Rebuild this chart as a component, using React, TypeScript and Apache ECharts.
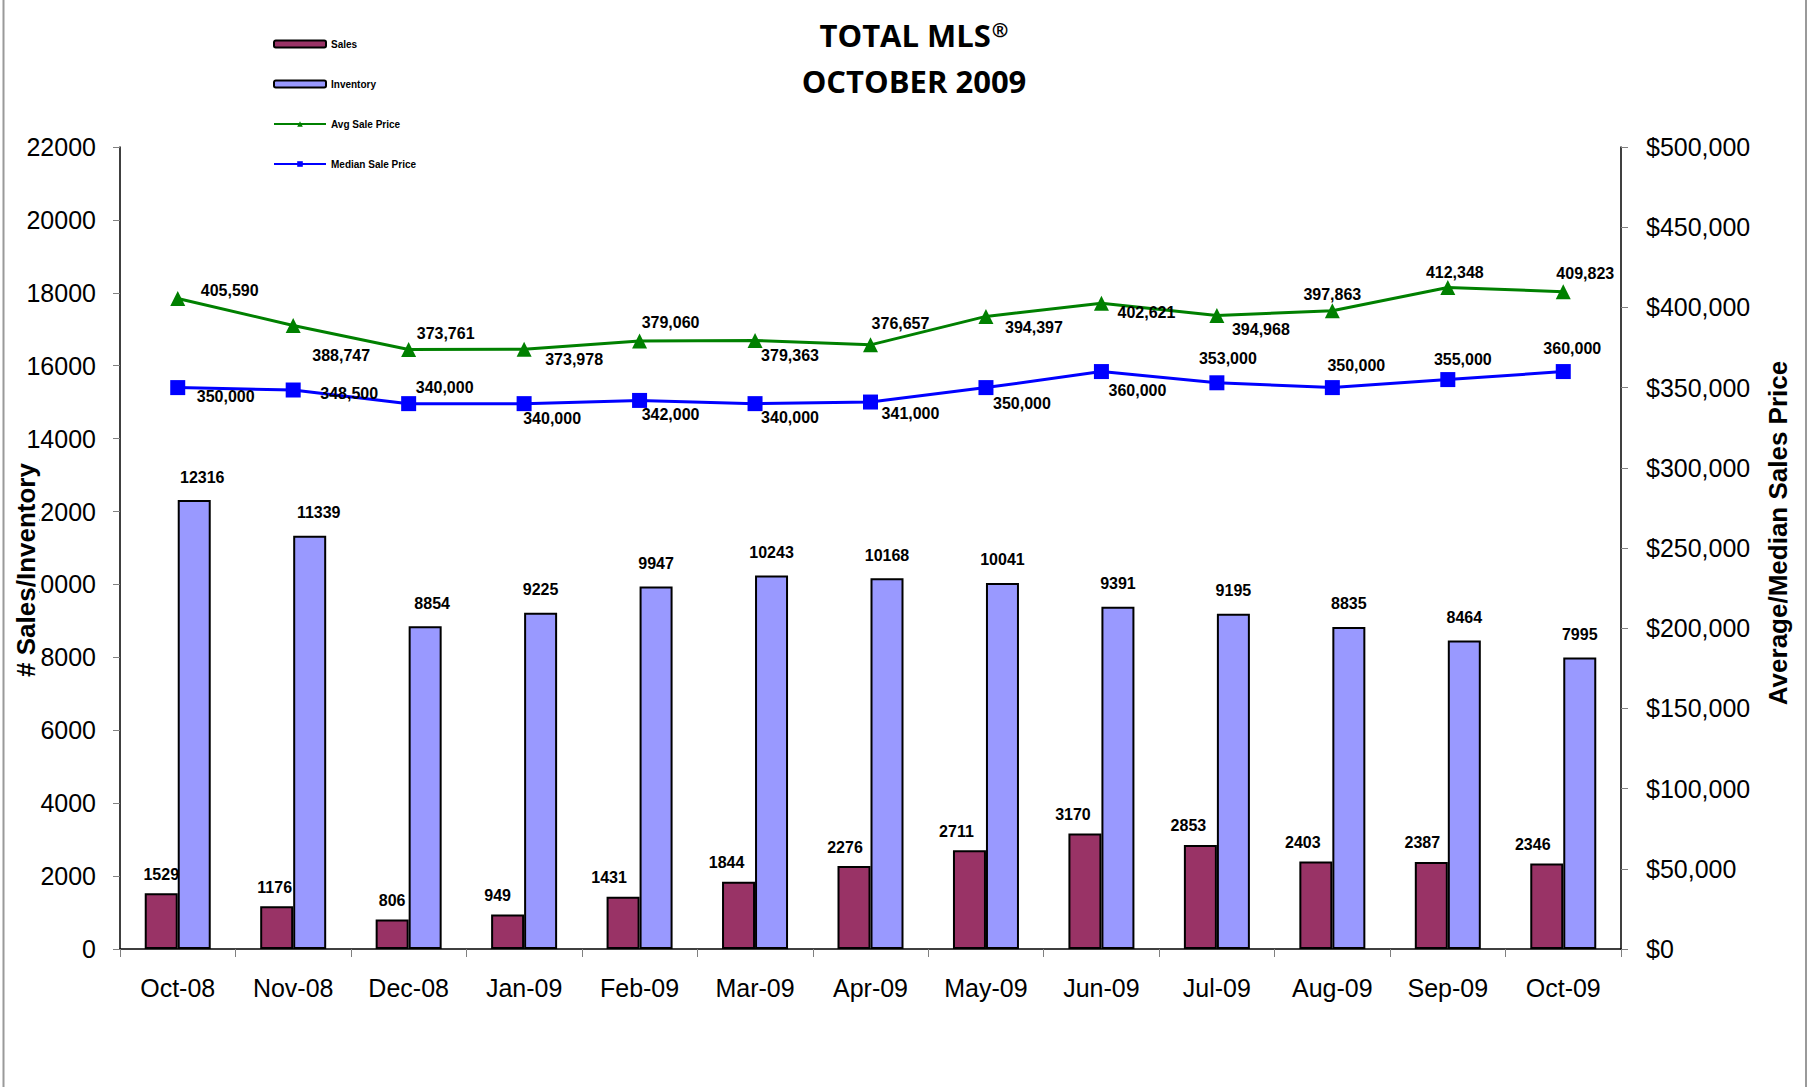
import React, { useEffect, useRef } from "react";
import * as echarts from "echarts";

const months = ["Oct-08", "Nov-08", "Dec-08", "Jan-09", "Feb-09", "Mar-09", "Apr-09", "May-09", "Jun-09", "Jul-09", "Aug-09", "Sep-09", "Oct-09"];
const sales = [1529, 1176, 806, 949, 1431, 1844, 2276, 2711, 3170, 2853, 2403, 2387, 2346];
const inventory = [12316, 11339, 8854, 9225, 9947, 10243, 10168, 10041, 9391, 9195, 8835, 8464, 7995];
const avgPrice = [405590, 388747, 373761, 373978, 379060, 379363, 376657, 394397, 402621, 394968, 397863, 412348, 409823];
const medianPrice = [350000, 348500, 340000, 340000, 342000, 340000, 341000, 350000, 360000, 353000, 350000, 355000, 360000];

const titleMain = "TOTAL MLS";
const titleMark = "®";
const titleSub = "OCTOBER 2009";
const leftAxisName = "# Sales/Inventory";
const rightAxisName = "Average/Median Sales Price";

// label offsets (px) relative to each mark
const salesLabelDx = [0, -2, 0, -10, -14, -12, -9, -13, -12, -12, -13, -9, -14];
const invLabelDx = [8, 9, 7, 0, 0, 0, 0, 0, 0, 0, 0, 0, 0];
const avgLabelOffsets = [[52, -8], [48, 30], [37, -16], [50, 10], [31, -18], [35, 15], [30, -21], [48, 11], [45, 9], [44, 14], [0, -16], [7, -15], [22, -18]];
const medLabelOffsets = [[48, 9], [56, 3], [36, -16], [28, 15], [31, 14], [35, 14], [40, 11], [36, 16], [36, 19], [11, -24], [24, -22], [15, -20], [9, -23]];

const FONT = "'Liberation Sans', Arial, sans-serif";
const TITLE_FONT = "'Open Sans', sans-serif";

function fmt(n: number) {
  return n.toString().replace(/\B(?=(\d{3})+(?!\d))/g, ",");
}

export default function App() {
  const ref = useRef<HTMLDivElement>(null);
  useEffect(() => {
    if (!ref.current) return;
    const chart = echarts.init(ref.current, undefined, { renderer: "svg" });
    const labelStyle = { color: "#000", fontFamily: FONT, fontWeight: "bold" as const, fontSize: 16 };
    chart.setOption({
      animation: false,
      backgroundColor: "#fff",
      textStyle: { fontFamily: FONT },
      graphic: [
        { type: "line", shape: { x1: 3.5, y1: 0, x2: 3.5, y2: 1087 }, style: { stroke: "#9a9a9a", lineWidth: 2 } },
        { type: "line", shape: { x1: 1806, y1: 0, x2: 1806, y2: 1087 }, style: { stroke: "#9a9a9a", lineWidth: 2 } },
        {
          type: "text", x: 914, y: 35,
          style: {
            text: "{m|" + titleMain + "}{r|" + titleMark + "}",
            align: "center", verticalAlign: "middle",
            rich: {
              m: { fontFamily: TITLE_FONT, fontWeight: 700, fontSize: 31, color: "#000" },
              r: { fontFamily: TITLE_FONT, fontWeight: 700, fontSize: 20, color: "#000", verticalAlign: "top", padding: [0, 0, 12, 1] },
            },
          },
        },
        {
          type: "text", x: 914, y: 81,
          style: { text: titleSub, fontFamily: TITLE_FONT, fontWeight: 700, fontSize: 31, fill: "#000", align: "center", verticalAlign: "middle" },
        },
        {
          type: "text", x: 26, y: 570, rotation: Math.PI / 2, z: 100,
          style: {
            text: leftAxisName, fontFamily: FONT, fontWeight: "bold", fontSize: 26, fill: "#000",
            align: "center", verticalAlign: "middle", backgroundColor: "#fff",
          },
        },
        {
          type: "text", x: 1778, y: 533, rotation: Math.PI / 2, z: 100,
          style: {
            text: rightAxisName, fontFamily: FONT, fontWeight: "bold", fontSize: 26, fill: "#000",
            align: "center", verticalAlign: "middle",
          },
        },
      ],
      legend: {
        orient: "vertical",
        left: 268,
        top: 33,
        itemWidth: 52,
        itemHeight: 7,
        itemGap: 28,
        textStyle: { fontFamily: FONT, fontWeight: "bold", fontSize: 10, color: "#000", lineHeight: 12 },
        data: [
          { name: "Sales", icon: "roundRect" },
          { name: "Inventory", icon: "roundRect" },
          { name: "Avg Sale Price" },
          { name: "Median Sale Price" },
        ],
      },
      grid: { left: 120, right: 193, top: 147, bottom: 138, containLabel: false, outerBoundsMode: "none" },
      xAxis: {
        type: "category",
        data: months,
        boundaryGap: true,
        axisLine: { lineStyle: { color: "#000", width: 1.5 } },
        axisTick: { show: true, length: 8, lineStyle: { color: "#808080" } },
        axisLabel: { color: "#000", fontFamily: FONT, fontSize: 25, margin: 26 },
        splitLine: { show: false },
      },
      yAxis: [
        {
          type: "value",
          min: 0,
          max: 22000,
          interval: 2000,
          position: "left",
          axisLine: { show: true, lineStyle: { color: "#000", width: 1.5 } },
          axisTick: { show: true, length: 7, lineStyle: { color: "#808080" } },
          axisLabel: { color: "#000", fontFamily: FONT, fontSize: 25, margin: 24, formatter: (v: number) => String(v) },
          splitLine: { show: false },
        },
        {
          type: "value",
          min: 0,
          max: 500000,
          interval: 50000,
          position: "right",
          axisLine: { show: true, lineStyle: { color: "#000", width: 1.5 } },
          axisTick: { show: true, length: 7, lineStyle: { color: "#808080" } },
          axisLabel: { color: "#000", fontFamily: FONT, fontSize: 25, margin: 25, formatter: (v: number) => "$" + fmt(v) },
          splitLine: { show: false },
        },
      ],
      series: [
        {
          name: "Sales",
          type: "bar",
          yAxisIndex: 0,
          barWidth: 33,
          barGap: "0%",
          itemStyle: { color: "#993366", borderColor: "#000", borderWidth: 2 },
          data: sales.map((v, i) => ({
            value: v,
            label: { show: true, position: "top", distance: 11, offset: [salesLabelDx[i], 0], ...labelStyle },
          })),
          z: 2,
        },
        {
          name: "Inventory",
          type: "bar",
          yAxisIndex: 0,
          barWidth: 33,
          barGap: "0%",
          itemStyle: { color: "#9999FF", borderColor: "#000", borderWidth: 2 },
          data: inventory.map((v, i) => ({
            value: v,
            label: { show: true, position: "top", distance: 15, offset: [invLabelDx[i], 0], ...labelStyle },
          })),
          z: 3,
        },
        {
          name: "Avg Sale Price",
          type: "line",
          yAxisIndex: 1,
          symbol: "triangle",
          symbolSize: 15,
          lineStyle: { color: "#008000", width: 3 },
          itemStyle: { color: "#008000" },
          data: avgPrice.map((v, i) => ({
            value: v,
            label: { show: true, position: "inside", align: "center", verticalAlign: "middle", offset: avgLabelOffsets[i], formatter: fmt(v), ...labelStyle },
          })),
          z: 5,
        },
        {
          name: "Median Sale Price",
          type: "line",
          yAxisIndex: 1,
          symbol: "rect",
          symbolSize: 15,
          lineStyle: { color: "#0000FF", width: 3 },
          itemStyle: { color: "#0000FF" },
          data: medianPrice.map((v, i) => ({
            value: v,
            label: { show: true, position: "inside", align: "center", verticalAlign: "middle", offset: medLabelOffsets[i], formatter: fmt(v), ...labelStyle },
          })),
          z: 6,
        },
      ],
    });
    return () => chart.dispose();
  }, []);
  return <div ref={ref} style={{ position: "absolute", left: 0, top: 0, width: 1814, height: 1087 }} />;
}
